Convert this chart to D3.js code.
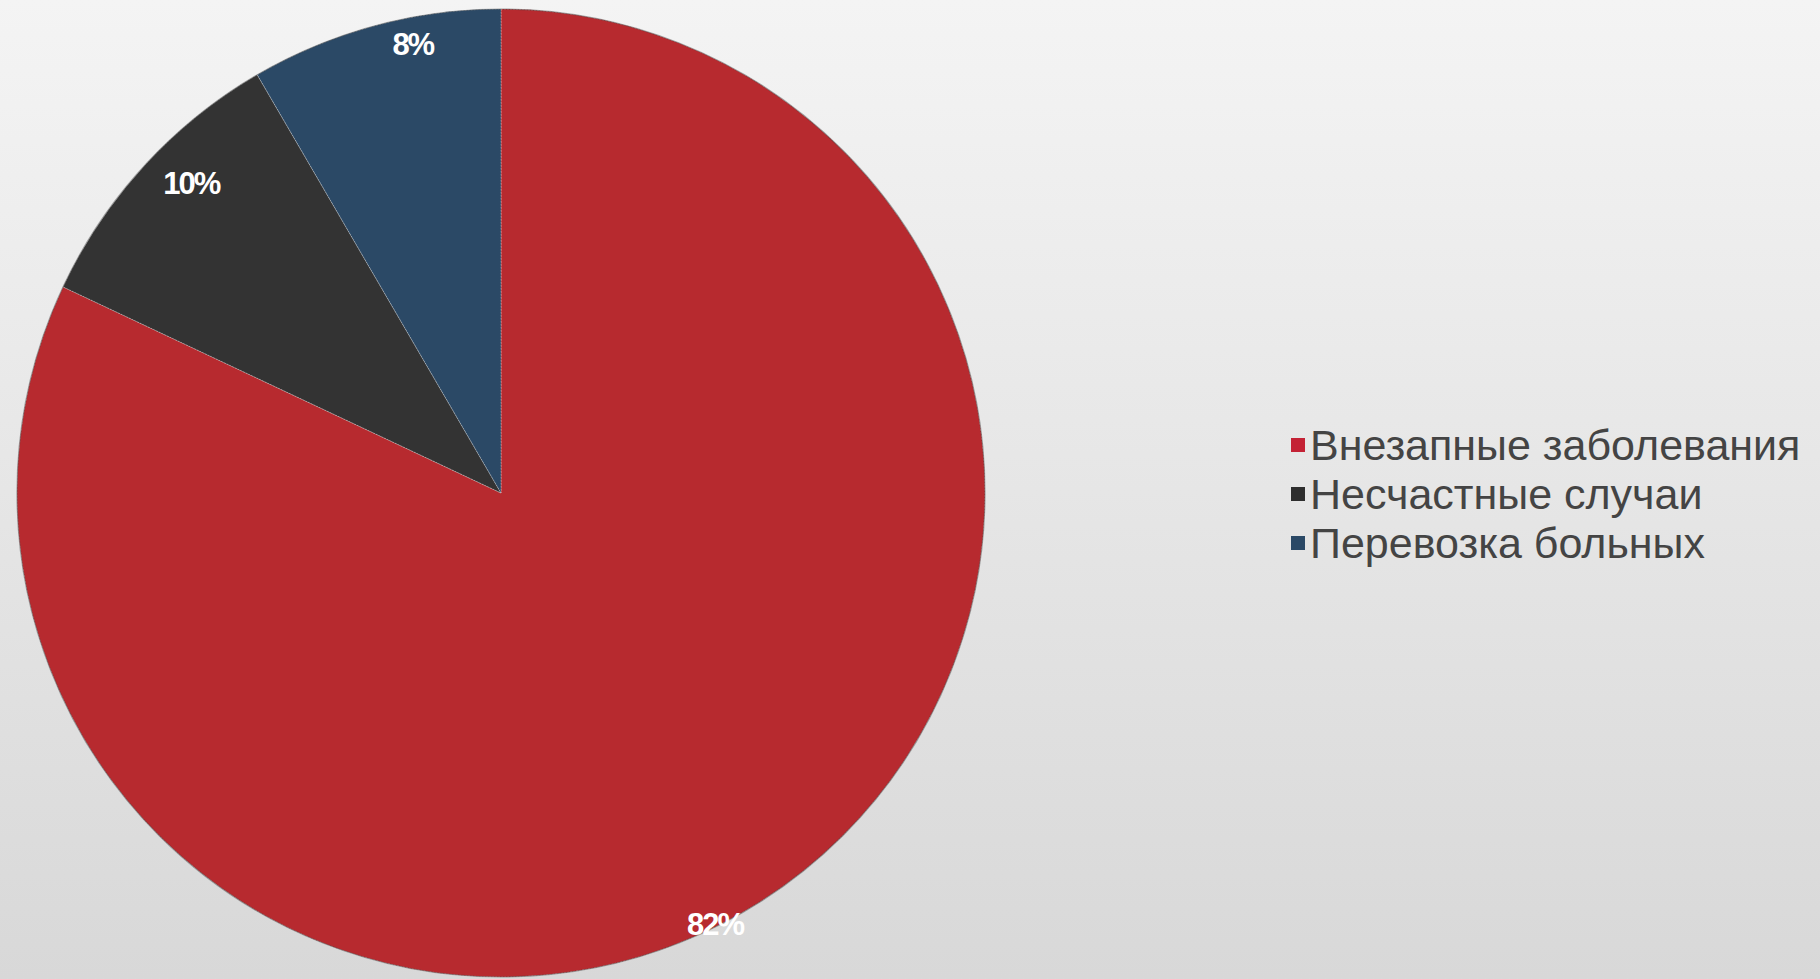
<!DOCTYPE html>
<html><head><meta charset="utf-8">
<script src="https://cdn.jsdelivr.net/npm/d3@7"></script>
<style>html,body{margin:0;padding:0;overflow:hidden;}</style>
</head><body>
<svg id="c" width="1820" height="979"></svg>
<script>
const categories = ["Внезапные заболевания", "Несчастные случаи", "Перевозка больных"];
const values = [82.0, 9.6, 8.4];
const colors = ["#B72A2F", "#333333", "#2B4966"];
const legendColors = ["#C42235", "#2E2E2E", "#2B4966"];
// label placement tweaks (radius fraction, angle shift in degrees) – styling only
const labelRadius = [0.995, 0.905, 0.945];
const labelShift = [6, 2.5, 4];

const svg = d3.select("#c");
const W = 1820, H = 979;
const defs = svg.append("defs");
const g0 = defs.append("linearGradient").attr("id","bg").attr("x1",0).attr("y1",0).attr("x2",0).attr("y2",1);
g0.append("stop").attr("offset","0%").attr("stop-color","#F4F4F4");
g0.append("stop").attr("offset","100%").attr("stop-color","#D8D8D8");
svg.append("rect").attr("width",W).attr("height",H).attr("fill","url(#bg)");

const cx = 501, cy = 493, r = 484;
const pie = d3.pie().sort(null).value(d => d);
const arcs = pie(values);
const arc = d3.arc().innerRadius(0).outerRadius(r);
const g = svg.append("g").attr("transform", `translate(${cx},${cy})`);
g.selectAll("path.s").data(arcs).join("path").attr("class","s")
  .attr("d", arc).attr("fill", (d,i) => colors[i])
  .attr("stroke", "rgba(255,255,255,0.35)").attr("stroke-width", 1).attr("stroke-dasharray","2,1");
g.append("circle").attr("r", r).attr("fill","none").attr("stroke","rgba(60,60,60,0.45)").attr("stroke-width",1.2);

const total = d3.sum(values);
g.selectAll("text.l").data(arcs).join("text").attr("class","l")
  .attr("transform", (d,i) => {
    const a = (d.startAngle + d.endAngle)/2 + labelShift[i]*Math.PI/180;
    const rr = r*labelRadius[i];
    return `translate(${rr*Math.sin(a)},${-rr*Math.cos(a)})`;
  })
  .attr("text-anchor","middle").attr("dominant-baseline","central")
  .attr("font-family","Liberation Sans, Arial, sans-serif").attr("font-weight","bold")
  .attr("font-size", 31).attr("letter-spacing", -2).attr("fill","#FFFFFF")
  .text(d => Math.round(d.value/total*100) + "%");

const leg = svg.append("g").attr("transform","translate(1291,445)");
const rows = leg.selectAll("g").data(categories).join("g").attr("transform",(d,i)=>`translate(0,${i*49})`);
rows.append("rect").attr("x",0).attr("y",-7).attr("width",14).attr("height",14).attr("fill",(d,i)=>legendColors[i]);
rows.append("text").attr("x",19).attr("y",0).attr("dominant-baseline","central")
  .attr("font-family","Liberation Sans, Arial, sans-serif").attr("font-size",43).attr("fill","#444444")
  .text(d=>d);
</script>
</body></html>
